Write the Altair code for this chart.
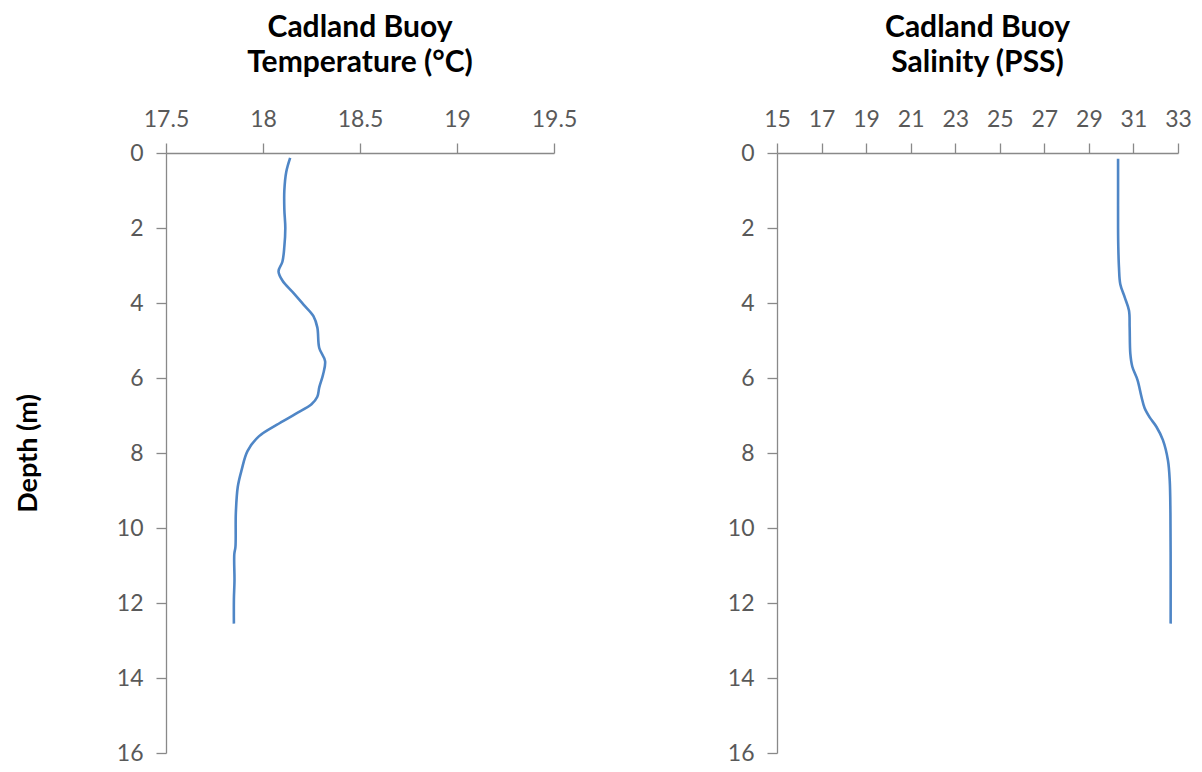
import altair as alt
import pandas as pd

# Temperature profile (depth m, °C)
temp_depth = [0.13, 0.5, 1.0, 1.5, 2.0, 2.5, 2.9, 3.15, 3.4, 3.75, 4.05, 4.35, 4.65, 5.2,
              5.55, 5.9, 6.25, 6.5, 6.7, 6.95, 7.25, 7.55, 7.95, 8.45, 8.9, 9.6, 10.5,
              10.7, 11.4, 11.9, 12.55]
temp_vals = [18.14, 18.12, 18.11, 18.11, 18.115, 18.11, 18.10, 18.08, 18.10, 18.16, 18.21,
             18.26, 18.28, 18.29, 18.32, 18.31, 18.29, 18.28, 18.25, 18.17, 18.07, 17.98,
             17.92, 17.89, 17.87, 17.86, 17.858, 17.852, 17.853, 17.85, 17.85]

# Salinity profile (depth m, PSS)
sal_depth = [0.15, 1.0, 2.0, 2.5, 3.05, 3.5, 3.85, 4.2, 4.65, 5.35, 5.7, 6.05, 6.5, 6.8,
             7.05, 7.3, 7.65, 8.2, 8.75, 9.6, 11.0, 12.55]
sal_vals = [30.31, 30.31, 30.31, 30.32, 30.35, 30.41, 30.61, 30.80, 30.83, 30.86, 30.95,
            31.18, 31.36, 31.50, 31.73, 32.03, 32.32, 32.55, 32.63, 32.66, 32.67, 32.67]

temp_ticks = [17.5, 18, 18.5, 19, 19.5]
sal_ticks = [15, 17, 19, 21, 23, 25, 27, 29, 31, 33]
depth_ticks = [0, 2, 4, 6, 8, 10, 12, 14, 16]

temp_title = ["Cadland Buoy", "Temperature (°C)"]
sal_title = ["Cadland Buoy", "Salinity (PSS)"]
depth_title = "Depth (m)"

FONT = "Lato"
GRAY = "#898989"
LABEL = "#595959"
LINE = "#4F86C6"

common_axis = dict(domainColor=GRAY, tickColor=GRAY, labelColor=LABEL, labelFont=FONT,
                   labelFontSize=23, tickSize=10, grid=False, domainWidth=1.3, tickWidth=1.3)


def panel(depths, vals, ticks, title_lines, ytitle, width):
    df = pd.DataFrame({"depth": depths, "value": vals, "idx": list(range(len(depths)))})
    if ytitle:
        yaxis = alt.Axis(values=depth_ticks, title=ytitle, labelPadding=13, titleFont=FONT,
                         titleFontSize=27, titleFontWeight="bold", titleColor="black",
                         titlePadding=74, **common_axis)
    else:
        yaxis = alt.Axis(values=depth_ticks, title=None, labelPadding=13, **common_axis)
    xaxis = alt.Axis(values=ticks, orient="top", title=None, labelPadding=12, format="~g",
                     labelFlush=False, **common_axis)
    return alt.Chart(df).mark_line(color=LINE, strokeWidth=2.6,
                                   interpolate="catmull-rom").encode(
        x=alt.X("value:Q", scale=alt.Scale(domain=[ticks[0], ticks[-1]], nice=False, zero=False),
                axis=xaxis),
        y=alt.Y("depth:Q", scale=alt.Scale(domain=[0, 16], reverse=True, nice=False),
                axis=yaxis),
        order="idx:Q",
    ).properties(
        width=width, height=600,
        title=alt.TitleParams(text=title_lines, font=FONT, fontSize=30, fontWeight="bold",
                              color="black", lineHeight=35, offset=30, anchor="middle"),
    )


left = panel(temp_depth, temp_vals, temp_ticks, temp_title, depth_title, 388)
right = panel(sal_depth, sal_vals, sal_ticks, sal_title, None, 401)

chart = alt.hconcat(left, right, spacing=223, bounds="flush").properties(
    padding={"left": 6, "top": 5, "right": 0, "bottom": 0}
).configure(background="white", view={"stroke": None})

chart.save("out.html", embed_options={"renderer": "svg", "actions": False})
